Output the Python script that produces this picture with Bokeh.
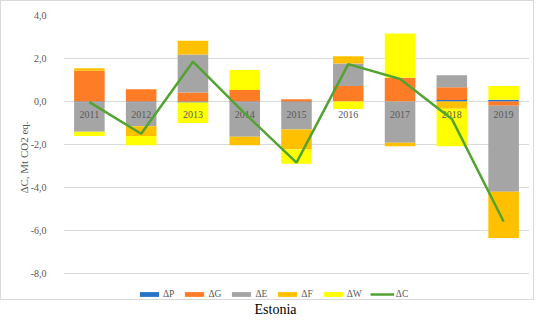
import numpy as np
from bokeh.plotting import figure
from bokeh.layouts import column
from bokeh.models import (Range1d, FactorRange, FixedTicker, CustomJSTickFormatter,
                          Legend, LegendItem)
from bokeh.core.properties import value
from bokeh.embed import file_html
from bokeh.resources import INLINE

years = ["2011", "2012", "2013", "2014", "2015", "2016", "2017", "2018", "2019"]
dP = [-0.05, -0.05, -0.05, -0.05, -0.02, 0.00, 0.00, 0.07, 0.08]
dG = [1.43, 0.57, 0.42, 0.54, 0.11, 0.72, 1.11, 0.59, -0.20]
dE = [-1.36, -1.10, 1.77, -1.59, -1.28, 1.05, -1.92, 0.56, -4.00]
dF = [0.12, -0.46, 0.63, -0.39, -0.93, 0.34, -0.16, -0.34, -2.15]
dW = [-0.20, -0.43, -0.95, 0.92, -0.66, -0.35, 2.05, -1.74, 0.64]
dC = [-0.03, -1.50, 1.85, -0.55, -2.84, 1.74, 1.05, -0.81, -5.58]
y_ticks = [-8, -6, -4, -2, 0, 2, 4]

names = ["ΔP", "ΔG", "ΔE", "ΔF", "ΔW"]
colors = ["#2872C8", "#FF7C26", "#A5A5A5", "#FFC000", "#FFFF00"]
line_color = "#52A332"
serif = "Liberation Serif"

# layout (pixels): frame spans from top grid line down to below the legend
H = 300
frame_top, grid_bottom, frame_bottom = 14, 272, 298
px_per_unit = (grid_bottom - frame_top) / (max(y_ticks) - min(y_ticks))
y_start = min(y_ticks) - (frame_bottom - grid_bottom) / px_per_unit

p = figure(width=534, height=H, output_backend="svg", toolbar_location=None,
           x_range=FactorRange(*years), y_range=Range1d(y_start, max(y_ticks)),
           x_axis_type=None,
           min_border_left=62, min_border_right=6, min_border_top=frame_top,
           min_border_bottom=H - frame_bottom)
p.styles = {"border": "1px solid #D9D9D9"}
p.outline_line_color = None
p.background_fill_color = "white"
p.border_fill_color = "white"
p.xgrid.grid_line_color = None
p.ygrid.grid_line_color = "#D9D9D9"
p.ygrid.ticker = FixedTicker(ticks=y_ticks)

ax = p.yaxis[0]
ax.ticker = FixedTicker(ticks=y_ticks)
ax.formatter = CustomJSTickFormatter(code="return tick.toFixed(1).replace('.', ',')")
ax.axis_line_color = None
ax.major_tick_line_color = None
ax.minor_tick_line_color = None
ax.major_label_standoff = 11
ax.major_label_text_font = serif
ax.major_label_text_font_size = "10px"
ax.major_label_text_color = "#595959"
ax.axis_label = "ΔC, Mt CO2 eq."
ax.axis_label_text_font = serif
ax.axis_label_text_font_size = "11px"
ax.axis_label_text_font_style = "normal"
ax.axis_label_text_color = "#595959"
ax.axis_label_standoff = -2

pos = np.zeros(len(years))
neg = np.zeros(len(years))
items = []
for name, vals, col in zip(names, [dP, dG, dE, dF, dW], colors):
    v = np.array(vals, dtype=float)
    bottom = np.where(v >= 0, pos, neg)
    top = bottom + v
    pos = np.where(v >= 0, top, pos)
    neg = np.where(v < 0, top, neg)
    r = p.vbar(x=years, bottom=bottom, top=top, width=0.59,
               fill_color=col, line_color=None)
    items.append(LegendItem(label=name, renderers=[r]))

p.text(x=years, y=[0] * len(years), text=years, y_offset=13,
       text_align="center", text_baseline="middle",
       text_font=value(serif), text_font_size="10px", text_color="#595959")

lr = p.line(x=years, y=dC, line_color=line_color, line_width=2.5)
items.append(LegendItem(label="ΔC", renderers=[lr]))

legend = Legend(items=items, orientation="horizontal", location=(74, 0),
                glyph_width=24, glyph_height=6, label_height=10, label_width=10,
                label_standoff=2, spacing=8, padding=3, margin=0,
                label_text_font=serif, label_text_font_size="9.5px",
                label_text_color="#595959",
                border_line_color=None, background_fill_alpha=0)
p.add_layout(legend, "center")

t = figure(width=534, height=17, output_backend="svg", toolbar_location=None,
           x_axis_type=None, y_axis_type=None,
           x_range=Range1d(0, 1), y_range=Range1d(0, 1),
           min_border_left=0, min_border_right=0, min_border_top=0, min_border_bottom=0)
t.outline_line_color = None
t.xgrid.grid_line_color = None
t.ygrid.grid_line_color = None
t.text(x=[0.5], y=[0.5], text=["Estonia"], x_offset=-20,
       text_align="center", text_baseline="middle",
       text_font=value(serif), text_font_size="14px", text_color="#000000")

layout = column(p, t, spacing=0)
open("out.html", "w").write(file_html(layout, INLINE))
